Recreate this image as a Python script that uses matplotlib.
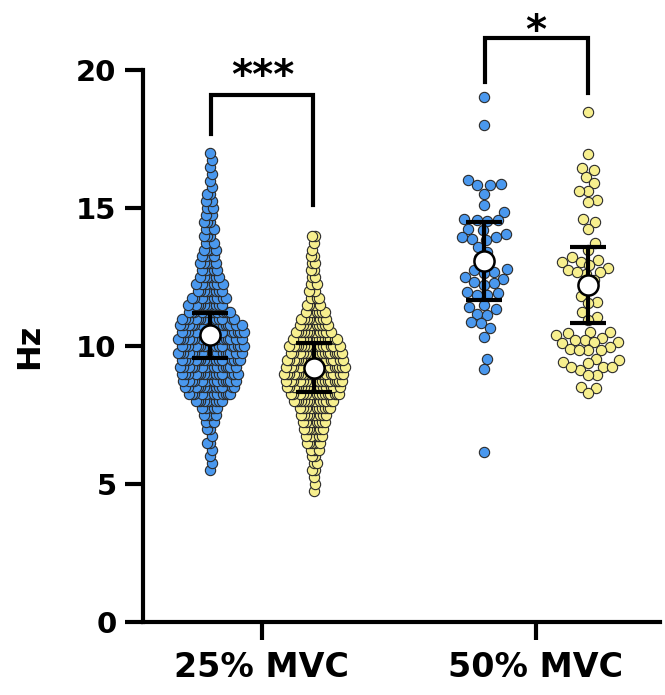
import matplotlib
matplotlib.use('Agg')
import matplotlib.pyplot as plt
import numpy as np

# ---- data ----
groups = ['25% MVC', '50% MVC']

# 25% MVC: too dense to read point by point, so counts per 0.25 Hz level
levels_25_blue = np.arange(5.5, 17.01, 0.25)
counts_25_blue = [1, 1, 1, 1, 2, 1, 2, 3, 4, 5, 9, 12, 13, 14, 15, 15, 16, 17,
                  17, 17, 17, 16, 14, 12, 10, 9, 8, 7, 6, 5, 5, 4, 4, 3, 3, 3,
                  3, 2, 3, 2, 2, 1, 1, 1, 1, 1, 1]
levels_25_yellow = np.arange(4.75, 14.01, 0.25)
counts_25_yellow = [1, 1, 1, 2, 2, 2, 4, 5, 6, 7, 8, 9, 11, 14, 16, 17, 18, 19,
                    19, 18, 17, 16, 14, 12, 10, 9, 7, 5, 4, 3, 3, 2, 2, 2, 2,
                    1, 1, 2]

hz_50_blue = [19.03, 18.0, 16.01, 15.87, 15.83, 15.83, 15.53, 15.11, 14.87,
              14.57, 14.57, 14.6, 14.55, 14.26, 14.2, 14.08, 13.96, 13.9,
              13.96, 13.84, 13.6, 13.4, 13.18, 13.0, 12.81, 12.75, 12.51,
              12.45, 12.69, 12.65, 12.27, 12.33, 12.21, 11.97, 11.91, 11.85,
              11.85, 11.49, 11.36, 11.42, 11.18, 11.12, 10.88, 10.82, 10.64,
              10.34, 9.52, 9.16, 6.17]
hz_50_yellow = [18.5, 16.96, 16.47, 16.38, 16.14, 15.92, 15.63, 15.63, 15.29,
                15.23, 14.59, 14.51, 14.26, 13.72, 13.5, 13.24, 13.12, 13.06,
                13.06, 12.95, 12.82, 12.75, 12.6, 12.69, 12.69, 12.4, 12.1,
                11.8, 11.61, 11.55, 11.24, 11.06, 10.95, 10.52, 10.52, 10.46,
                10.4, 10.28, 10.22, 10.16, 10.16, 10.1, 10.22, 9.97, 9.91,
                9.86, 9.86, 9.86, 9.55, 9.49, 9.43, 9.37, 9.25, 9.25, 9.13,
                9.25, 8.95, 8.95, 8.53, 8.47, 8.29]

# mean and error bar ends (lower, upper)
means = [10.4, 9.19, 13.1, 12.2]
err_lo = [9.57, 8.35, 11.67, 10.82]
err_hi = [11.2, 10.1, 14.5, 13.6]

hz_25_blue = np.repeat(levels_25_blue, counts_25_blue)
hz_25_yellow = np.repeat(levels_25_yellow, counts_25_yellow)

BLUE = '#4a98ee'
YELLOW = '#f7ef8e'
EDGE = '#2b2b2b'

# pixel scales of the axes (used for swarm layout)
PX_X = 274.0   # px per category unit
PX_Y = 27.6    # px per Hz
DIAM = 10.5    # marker diameter in px


def swarm_offsets(vals, max_half):
    """Beeswarm x offsets (data units), compressed to max_half px."""
    order = np.argsort(vals)
    ys = np.asarray(vals, float)[order] * PX_Y
    placed_x, placed_y = [], []
    d2 = DIAM * DIAM
    for y in ys:
        near = [(px, py) for px, py in zip(placed_x, placed_y)
                if abs(py - y) < DIAM]
        cands = [0.0]
        for px, py in near:
            dx = np.sqrt(d2 - (py - y) ** 2)
            cands += [px + dx, px - dx]
        cands.sort(key=abs)
        for c in cands:
            if all((c - px) ** 2 + (y - py) ** 2 >= d2 - 1e-6 for px, py in near):
                break
        placed_x.append(c)
        placed_y.append(y)
    xs = np.array(placed_x)
    if np.abs(xs).max() > max_half:
        xs = xs * max_half / np.abs(xs).max()
    out = np.empty_like(xs)
    out[order] = xs
    return out / PX_X


fig = plt.figure(figsize=(6.65, 6.95), dpi=100)
ax = fig.add_axes([0.215, 0.105, 0.7775, 0.794])

series = [(hz_25_blue, -0.19, BLUE, 34),
          (hz_25_yellow, 0.19, YELLOW, 31),
          (hz_50_blue, 0.81, BLUE, 30),
          (hz_50_yellow, 1.19, YELLOW, 32)]

for i, (vals, xc, col, half) in enumerate(series):
    dx = swarm_offsets(vals, half)
    ax.scatter(xc + dx, vals, s=55, color=col, edgecolors=EDGE,
               linewidths=0.8, zorder=2, clip_on=False)
    cap = 18 / PX_X
    ax.plot([xc, xc], [err_lo[i], err_hi[i]], color='black', lw=3, zorder=3,
            solid_capstyle='butt')
    ax.hlines([err_lo[i], err_hi[i]], xc - cap, xc + cap, color='black',
              lw=3, zorder=3)
    ax.plot(xc, means[i], 'o', ms=14.5, mfc='white', mec='black', mew=1.8,
            zorder=4)

# significance brackets
bk = dict(color='black', lw=3, clip_on=False, solid_joinstyle='miter')
ax.plot([-0.184, -0.184, 0.186, 0.186], [17.7, 19.1, 19.1, 15.1], **bk)
ax.text(0.004, 19.35, '***', ha='center', va='baseline', fontsize=29,
        fontweight='bold')
ax.plot([0.814, 0.814, 1.19, 1.19], [19.58, 21.16, 21.16, 19.17], **bk)
ax.text(1.0, 21.0, '*', ha='center', va='baseline', fontsize=29,
        fontweight='bold')

ax.set_xlim(-0.434, 1.453)
ax.set_ylim(0, 20)
ax.set_yticks([0, 5, 10, 15, 20])
ax.set_xticks([0, 1])
ax.set_xticklabels(groups, fontsize=24, fontweight='bold')
for lab in ax.get_yticklabels():
    lab.set_fontsize(21)
    lab.set_fontweight('bold')
ax.set_ylabel('Hz', fontsize=23, fontweight='bold', labelpad=22)

for s in ['top', 'right']:
    ax.spines[s].set_visible(False)
for s in ['left', 'bottom']:
    ax.spines[s].set_linewidth(3)
ax.tick_params(width=3, length=13, pad=6)
ax.tick_params(axis='x', pad=8)

fig.savefig('out.png', dpi=100)
